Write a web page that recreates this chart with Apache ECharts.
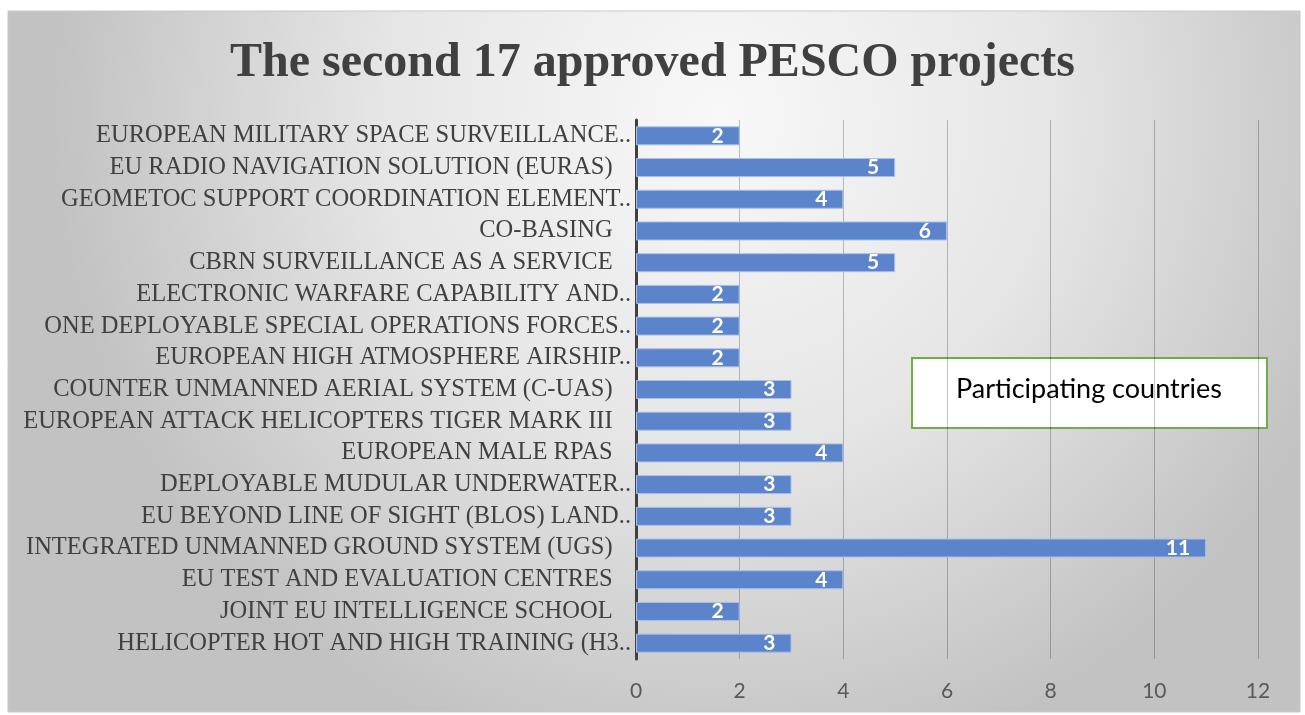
<!DOCTYPE html>
<html>
<head>
<meta charset="utf-8">
<script src="https://cdn.jsdelivr.net/npm/echarts@6/dist/echarts.min.js"></script>
<style>
  html, body { margin: 0; padding: 0; background: #fff; }
  #chart { width: 1305px; height: 715px; }
</style>
</head>
<body>
<div id="chart"></div>
<script>
// projects, listed top to bottom as in the picture
const projects = [
  'EUROPEAN MILITARY SPACE SURVEILLANCE..',
  'EU RADIO NAVIGATION SOLUTION (EURAS) ',
  'GEOMETOC SUPPORT COORDINATION ELEMENT..',
  'CO-BASING ',
  'CBRN SURVEILLANCE AS A SERVICE ',
  'ELECTRONIC WARFARE CAPABILITY AND..',
  'ONE DEPLOYABLE SPECIAL OPERATIONS FORCES..',
  'EUROPEAN HIGH ATMOSPHERE AIRSHIP..',
  'COUNTER UNMANNED AERIAL SYSTEM (C-UAS) ',
  'EUROPEAN ATTACK HELICOPTERS TIGER MARK III ',
  'EUROPEAN MALE RPAS ',
  'DEPLOYABLE MUDULAR UNDERWATER..',
  'EU BEYOND LINE OF SIGHT (BLOS) LAND..',
  'INTEGRATED UNMANNED GROUND SYSTEM (UGS) ',
  'EU TEST AND EVALUATION CENTRES ',
  'JOINT EU INTELLIGENCE SCHOOL ',
  'HELICOPTER HOT AND HIGH TRAINING (H3..'
]
const countries = [2, 5, 4, 6, 5, 2, 2, 2, 3, 3, 4, 3, 3, 11, 4, 2, 3]
const seriesName = 'Participating countries'
const chartTitle = 'The second 17 approved PESCO projects'

let myChart = echarts.init(document.getElementById('chart'))

// labels without the ".." cut get a trailing gap, like the original
let fmtLabel = val => val.endsWith(' ') ? val.trimEnd() + '\u00a0\u00a0\u00a0' : val

let option = {
  backgroundColor: '#fff',
  title: {
    text: chartTitle,
    left: 'center',
    top: 35,
    textStyle: {
      fontFamily: 'Liberation Serif',
      fontWeight: 'bold',
      fontSize: 48,
      color: '#404040'
    }
  },
  graphic: [
    {
      type: 'rect',
      z: -10,
      shape: { x: 8, y: 11, width: 1292, height: 701 },
      style: {
        fill: new echarts.graphic.RadialGradient(0.55, 0.15, 0.95, [
          { offset: 0, color: '#f8f8f8' },
          { offset: 0.5, color: '#e6e6e6' },
          { offset: 1, color: '#c2c2c2' }
        ]),
        stroke: '#c8c8c8',
        lineWidth: 1
      }
    },
    {
      type: 'group',
      left: 911,
      top: 357,
      z: 20,
      children: [
        {
          type: 'rect',
          shape: { x: 0, y: 0, width: 355, height: 70 },
          style: { fill: '#fff', stroke: '#70ad47', lineWidth: 2 }
        },
        {
          type: 'text',
          x: 177,
          y: 31,
          style: {
            text: seriesName,
            align: 'center',
            verticalAlign: 'middle',
            fontFamily: 'Lato',
            fontSize: 27,
            fill: '#000'
          }
        }
      ]
    }
  ],
  grid: {
    left: 636,
    right: 47,
    top: 120,
    bottom: 56
  },
  xAxis: {
    type: 'value',
    min: 0,
    max: 12,
    interval: 2,
    axisLine: { show: false },
    axisTick: { show: false },
    axisLabel: {
      margin: 22,
      fontFamily: 'Lato',
      fontSize: 21,
      color: '#595959'
    },
    splitLine: {
      lineStyle: { color: 'rgba(0,0,0,0.24)', width: 1 }
    }
  },
  yAxis: {
    type: 'category',
    data: projects,
    inverse: true,
    axisLine: { show: true, lineStyle: { color: '#404040', width: 3 } },
    axisTick: { show: false },
    axisLabel: {
      interval: 0,
      margin: 5,
      fontFamily: 'Liberation Serif',
      fontSize: 24.5,
      color: '#404040',
      formatter: fmtLabel
    }
  },
  series: [{
    name: seriesName,
    type: 'bar',
    data: countries,
    barWidth: 19,
    itemStyle: {
      color: '#5b84ca',
      borderColor: '#a9bfe8',
      borderWidth: 1
    },
    label: {
      show: true,
      position: 'insideRight',
      distance: 16,
      fontFamily: 'Lato',
      fontWeight: 'bold',
      fontSize: 21,
      color: '#fff'
    }
  }]
}

myChart.setOption(option)
</script>
</body>
</html>
